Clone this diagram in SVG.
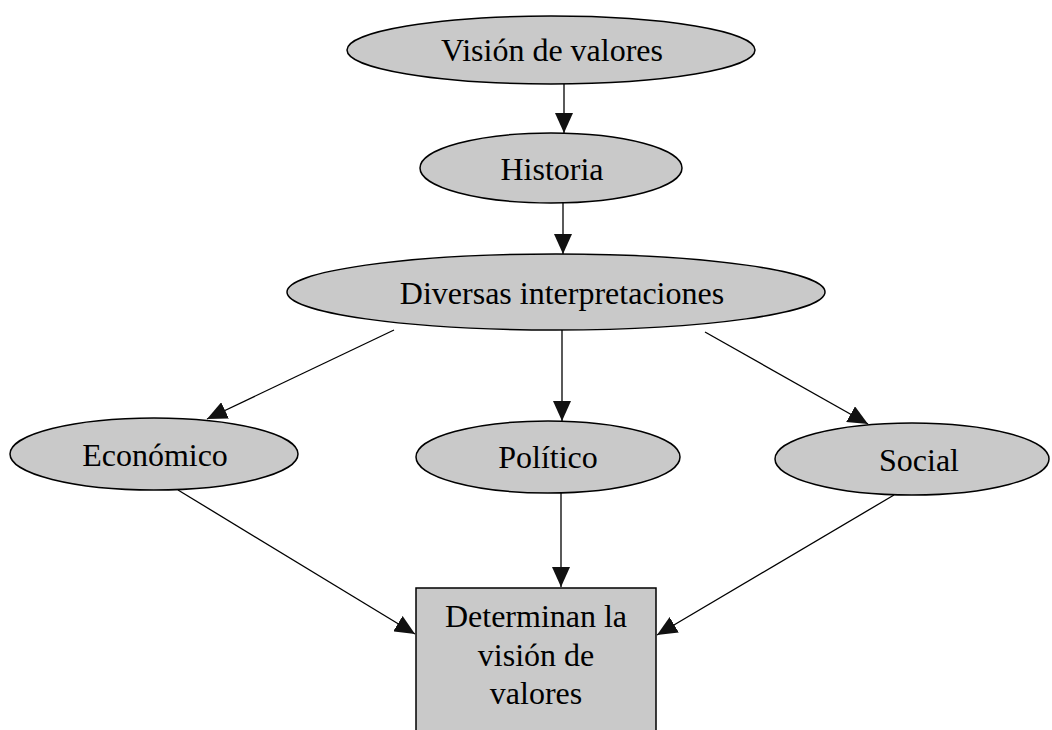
<svg xmlns="http://www.w3.org/2000/svg" width="1052" height="730" viewBox="0 0 1052 730">
<style>
.node{fill:#c9c9c9;stroke:#000;stroke-width:1.5}
.lbl{font-family:"Liberation Serif","Times New Roman",serif;font-size:32px;fill:#000;text-anchor:middle}
.conn{stroke:#000;stroke-width:1.3;fill:none;marker-end:url(#ah)}
</style>
<defs>
<marker id="ah" markerUnits="userSpaceOnUse" markerWidth="20" markerHeight="18" refX="20" refY="9" orient="auto">
<path d="M0,0 L20,9 L0,18 z" fill="#111"/>
</marker>
</defs>
<rect width="1052" height="730" fill="#fff"/>
<g id="connectors">
<line class="conn" x1="564" y1="84" x2="564" y2="133"/>
<line class="conn" x1="563" y1="203" x2="563" y2="254"/>
<line class="conn" x1="394" y1="330" x2="207" y2="419"/>
<line class="conn" x1="562" y1="330" x2="562" y2="421"/>
<line class="conn" x1="705" y1="332" x2="868" y2="424"/>
<line class="conn" x1="178" y1="490" x2="415" y2="634"/>
<line class="conn" x1="561" y1="493" x2="561" y2="587"/>
<line class="conn" x1="894" y1="495" x2="657" y2="635"/>
</g>
<g id="n-vision">
<ellipse class="node" cx="551" cy="50" rx="204" ry="34"/>
<text class="lbl" x="552" y="61">Visión de valores</text>
</g>
<g id="n-historia">
<ellipse class="node" cx="551" cy="168" rx="131" ry="35"/>
<text class="lbl" x="552" y="180">Historia</text>
</g>
<g id="n-diversas">
<ellipse class="node" cx="556" cy="292" rx="269" ry="38"/>
<text class="lbl" x="562" y="304">Diversas interpretaciones</text>
</g>
<g id="n-economico">
<ellipse class="node" cx="154" cy="454" rx="144" ry="36"/>
<text class="lbl" x="155" y="466">Económico</text>
</g>
<g id="n-politico">
<ellipse class="node" cx="548" cy="457" rx="132" ry="36"/>
<text class="lbl" x="548" y="468">Político</text>
</g>
<g id="n-social">
<ellipse class="node" cx="912" cy="459" rx="137" ry="36"/>
<text class="lbl" x="919" y="471">Social</text>
</g>
<g id="n-determinan">
<rect class="node" x="416" y="588" width="240" height="150"/>
<text class="lbl" x="536" y="627">Determinan la</text>
<text class="lbl" x="536" y="666">visión de</text>
<text class="lbl" x="536" y="704">valores</text>
</g>
</svg>
